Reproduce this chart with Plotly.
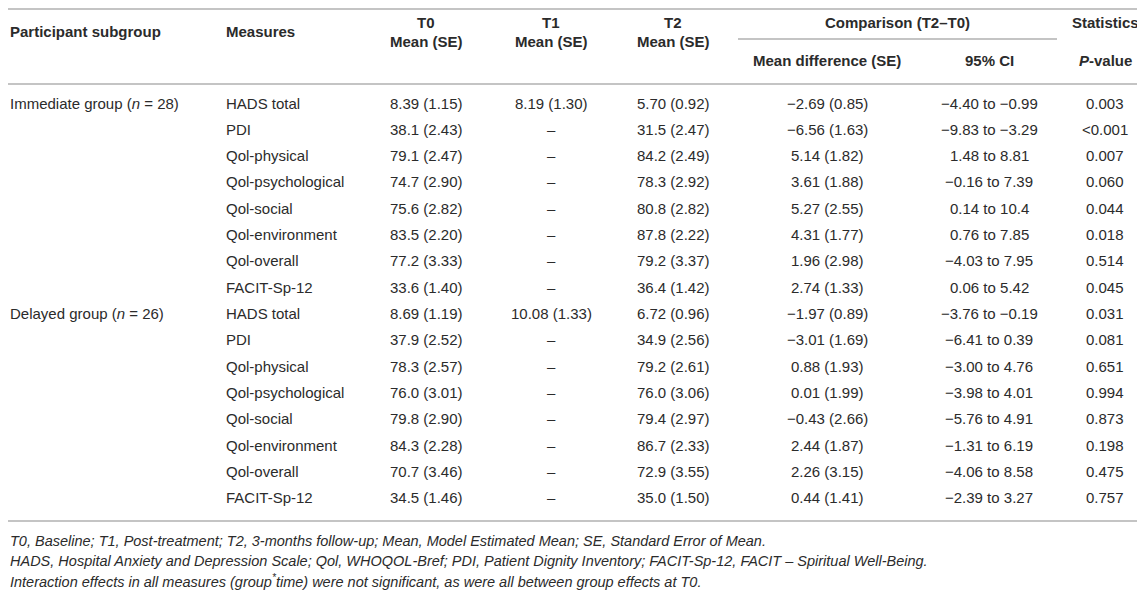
import plotly.graph_objects as go

# Table content
groups = ['Immediate group (<i>n</i> = 28)', 'Delayed group (<i>n</i> = 26)']
measures = ['HADS total', 'PDI', 'Qol-physical', 'Qol-psychological',
            'Qol-social', 'Qol-environment', 'Qol-overall', 'FACIT-Sp-12']

t0 = ['8.39 (1.15)', '38.1 (2.43)', '79.1 (2.47)', '74.7 (2.90)', '75.6 (2.82)', '83.5 (2.20)', '77.2 (3.33)', '33.6 (1.40)',
      '8.69 (1.19)', '37.9 (2.52)', '78.3 (2.57)', '76.0 (3.01)', '79.8 (2.90)', '84.3 (2.28)', '70.7 (3.46)', '34.5 (1.46)']
t1 = ['8.19 (1.30)', '–', '–', '–', '–', '–', '–', '–',
      '10.08 (1.33)', '–', '–', '–', '–', '–', '–', '–']
t2 = ['5.70 (0.92)', '31.5 (2.47)', '84.2 (2.49)', '78.3 (2.92)', '80.8 (2.82)', '87.8 (2.22)', '79.2 (3.37)', '36.4 (1.42)',
      '6.72 (0.96)', '34.9 (2.56)', '79.2 (2.61)', '76.0 (3.06)', '79.4 (2.97)', '86.7 (2.33)', '72.9 (3.55)', '35.0 (1.50)']
mean_diff = ['−2.69 (0.85)', '−6.56 (1.63)', '5.14 (1.82)', '3.61 (1.88)', '5.27 (2.55)', '4.31 (1.77)', '1.96 (2.98)', '2.74 (1.33)',
             '−1.97 (0.89)', '−3.01 (1.69)', '0.88 (1.93)', '0.01 (1.99)', '−0.43 (2.66)', '2.44 (1.87)', '2.26 (3.15)', '0.44 (1.41)']
ci95 = ['−4.40 to −0.99', '−9.83 to −3.29', '1.48 to 8.81', '−0.16 to 7.39', '0.14 to 10.4', '0.76 to 7.85', '−4.03 to 7.95', '0.06 to 5.42',
        '−3.76 to −0.19', '−6.41 to 0.39', '−3.00 to 4.76', '−3.98 to 4.01', '−5.76 to 4.91', '−1.31 to 6.19', '−4.06 to 8.58', '−2.39 to 3.27']
p_value = ['0.003', '<0.001', '0.007', '0.060', '0.044', '0.018', '0.514', '0.045',
           '0.031', '0.081', '0.651', '0.994', '0.873', '0.198', '0.475', '0.757']

footnotes = [
    'T0, Baseline; T1, Post-treatment; T2, 3-months follow-up; Mean, Model Estimated Mean; SE, Standard Error of Mean.',
    'HADS, Hospital Anxiety and Depression Scale; Qol, WHOQOL-Bref; PDI, Patient Dignity Inventory; FACIT-Sp-12, FACIT – Spiritual Well-Being.',
    'Interaction effects in all measures (group<sup>*</sup>time) were not significant, as were all between group effects at T0.',
]

# page coordinates: the page body has an 8px margin, so the figure starts at (8, 8)
W, H = 1145, 590
OFF = 8
fam = 'Liberation Sans, Arial, Helvetica, sans-serif'
ink = '#2b2b2b'
line_col = '#c4c4c4'

fig = go.Figure()


def txt(x, y, s, anchor='center', b=False, italic=False, size=15):
    if b:
        s = '<b>' + s + '</b>'
    if italic:
        s = '<i>' + s + '</i>'
    fig.add_annotation(x=x, y=y, text=s, showarrow=False, xanchor=anchor,
                       yanchor='middle', xref='x', yref='y',
                       font=dict(family=fam, size=size, color=ink))


# column positions
x_grp, x_meas = OFF, 224
c_t0, c_t1, c_t2, c_md, c_ci, c_p = 426, 551, 673, 827, 989, 1105

# header
txt(x_grp, 31, 'Participant subgroup', 'left', b=True)
txt(x_meas, 31, 'Measures', 'left', b=True)
for cx, lab in [(c_t0, 'T0'), (c_t1, 'T1'), (c_t2, 'T2')]:
    txt(cx, 22, lab, b=True)
    txt(cx, 41, 'Mean (SE)', b=True)
txt(897, 22, 'Comparison (T2–T0)', b=True)
txt(c_p, 22, 'Statistics', b=True)
txt(c_md, 60, 'Mean difference (SE)', b=True)
txt(c_ci, 60, '95% CI', b=True)
txt(c_p, 60, '<i>P</i>-value', b=True)

# body rows
row0, step = 103, 26.33
for i in range(16):
    y = row0 + i * step
    if i % 8 == 0:
        txt(x_grp, y, groups[i // 8], 'left')
    txt(x_meas, y, measures[i % 8], 'left')
    txt(c_t0, y, t0[i])
    txt(c_t1, y, t1[i])
    txt(c_t2, y, t2[i])
    txt(c_md, y, mean_diff[i])
    txt(c_ci, y, ci95[i])
    txt(c_p, y, p_value[i])

for k, note in enumerate(footnotes):
    txt(x_grp, 541 + k * 20, note, 'left', italic=True, size=14.5)

# rules
for y0, xa, xb in [(OFF + 1, OFF, W), (84, OFF, W), (39, 738, 1057), (521, OFF, W)]:
    fig.add_shape(type='line', x0=xa, x1=xb, y0=y0, y1=y0, xref='x', yref='y',
                  line=dict(color=line_col, width=2))

fig.update_xaxes(range=[OFF, W], visible=False, fixedrange=True)
fig.update_yaxes(range=[H, OFF], visible=False, fixedrange=True)
fig.update_layout(width=W - OFF, height=H - OFF, margin=dict(l=0, r=0, t=0, b=0),
                  plot_bgcolor='white', paper_bgcolor='white', showlegend=False)

fig.write_html('out.html')
